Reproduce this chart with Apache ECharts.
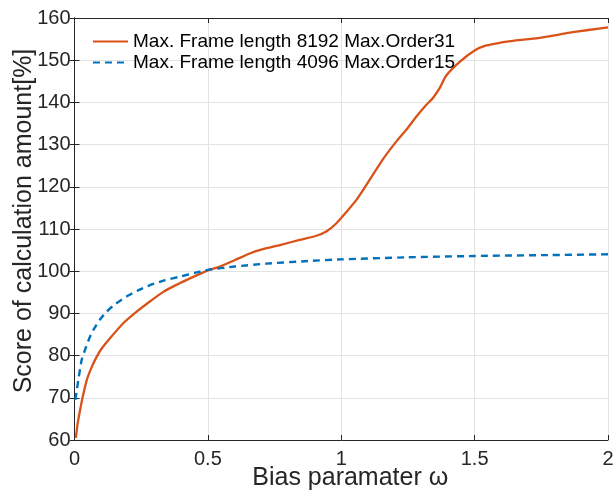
<!DOCTYPE html>
<html><head><meta charset="utf-8">
<script src="https://cdn.jsdelivr.net/npm/echarts@6/dist/echarts.min.js"></script>
<style>html,body{margin:0;padding:0;background:#fff;overflow:hidden}#c{width:615px;height:494px}</style>
</head><body><div id="c"></div>
<script>
const seriesNames = ['Max. Frame length 8192 Max.Order31', 'Max. Frame length 4096 Max.Order15'];
const orangeX = [0.005,0.012,0.021,0.03,0.046,0.064,0.083,0.1,0.133,0.18,0.233,0.28,0.333,0.38,0.433,0.5,0.545,0.6,0.657,0.7,0.77,0.844,0.907,0.944,0.981,1.02,1.057,1.1,1.156,1.206,1.25,1.281,1.32,1.343,1.37,1.393,1.444,1.5,1.544,1.6,1.644,1.719,1.8,1.844,1.92,2.0];
const orangeY = [60.5,64,67.1,70,74.2,77.2,79.7,81.5,84.1,87.5,90.4,92.7,95.1,96.7,98.3,100.2,101.1,102.6,104.2,105.1,106.2,107.4,108.4,109.4,111.3,114.1,116.9,121,126.5,130.7,134,136.6,139.5,141,143.5,146.3,149.6,152.3,153.5,154.2,154.6,155.1,155.9,156.4,157.1,157.8];
const blueX = [0.003,0.008,0.015,0.027,0.039,0.055,0.07,0.095,0.12,0.155,0.195,0.24,0.283,0.34,0.395,0.45,0.5,0.6,0.72,0.874,1.0,1.25,1.5,1.75,2.0];
const blueY = [69.5,71.5,74.5,79,81.3,84,86,88.5,90.4,92.3,94,95.5,96.7,97.9,98.7,99.6,100.3,101.1,101.8,102.4,102.8,103.3,103.6,103.8,104.0];
const xTicks = {min:0, max:2, interval:0.5};
const yTicks = {min:60, max:160, interval:10};
const xName = 'Bias paramater ω';
const yName = 'Score of calculation amount[%]';

const pair = (xs, ys) => xs.map((x, i) => [x, ys[i]]);
const font = 'Liberation Sans, Arial, sans-serif';
const axisLine = {show:true, lineStyle:{color:'#262626', width:1}};
const tick = {show:true, inside:true, length:5, lineStyle:{color:'#262626'}};
const chart = echarts.init(document.getElementById('c'), null, {renderer:'canvas', width:615, height:494});
chart.setOption({
  animation:false,
  backgroundColor:'#fff',
  grid:{left:74.5, right:7, top:18, bottom:54, containLabel:false, outerBoundsMode:'none'},
  legend:{
    orient:'vertical', left:92, top:32, padding:0, itemWidth:35, itemHeight:14, itemGap:2,
    itemStyle:{opacity:0},
    textStyle:{fontFamily:font, fontSize:19, color:'#000'},
    data:seriesNames
  },
  xAxis:[
    {type:'value', min:xTicks.min, max:xTicks.max, interval:xTicks.interval, position:'bottom',
     name:xName, nameLocation:'middle', nameGap:26, nameMoveOverlap:false,
     nameTextStyle:{fontFamily:font, fontSize:25, color:'#262626', padding:[0,0,0,18]},
     axisLine:axisLine, axisTick:tick,
     axisLabel:{fontFamily:font, fontSize:20, color:'#262626', margin:9},
     splitLine:{show:true, lineStyle:{color:'#e3e3e3', width:1}}},
    {type:'value', min:xTicks.min, max:xTicks.max, interval:xTicks.interval, position:'top',
     axisLine:axisLine, axisTick:tick, axisLabel:{show:false}, splitLine:{show:false}}
  ],
  yAxis:[
    {type:'value', min:yTicks.min, max:yTicks.max, interval:yTicks.interval, position:'left',
     name:yName, nameLocation:'middle', nameGap:38, nameRotate:90, nameMoveOverlap:false,
     nameTextStyle:{fontFamily:font, fontSize:25, color:'#262626', padding:[0,0,0,16]},
     axisLine:axisLine, axisTick:tick,
     axisLabel:{fontFamily:font, fontSize:20, color:'#262626', margin:4},
     splitLine:{show:true, lineStyle:{color:'#e3e3e3', width:1}}},
    {type:'value', min:yTicks.min, max:yTicks.max, interval:yTicks.interval, position:'right',
     axisLine:axisLine, axisTick:tick, axisLabel:{show:false}, splitLine:{show:false}}
  ],
  series:[
    {name:seriesNames[0], type:'line', data:pair(orangeX, orangeY), symbol:'none', smooth:0.2,
     lineStyle:{color:'#D95319', width:2.3}, itemStyle:{color:'#D95319'}},
    {name:seriesNames[1], type:'line', data:pair(blueX, blueY), symbol:'none', smooth:0.2,
     lineStyle:{color:'#0072BD', width:2.4, type:[7,5]}, itemStyle:{color:'#0072BD'}}
  ]
});
</script></body></html>
